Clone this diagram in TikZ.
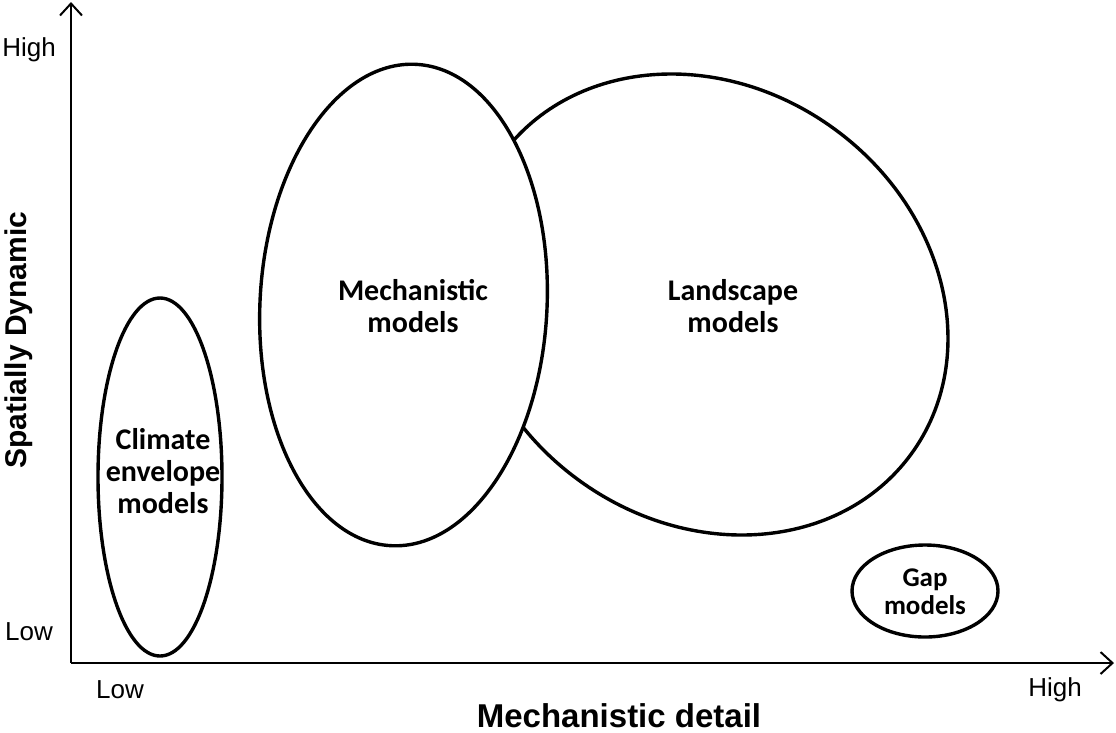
\documentclass[tikz,border=0pt]{standalone}
\usepackage{fontspec}
\setmainfont{Liberation Sans}
\newfontfamily\calfont{Carlito}
\usetikzlibrary{arrows.meta}
\tikzset{
  axis/.style={line width=2pt, -{Straight Barb[length=12pt,width=22pt,line width=2pt]}},
  blob/.style={line width=3.4pt, fill=white},
  inlabel/.style={font=\calfont\bfseries\fontsize{30}{32}\selectfont, align=center},
  ticklabel/.style={font=\fontsize{26}{30}\selectfont},
  axtitle/.style={font=\bfseries\fontsize{30}{34}\selectfont}
}
\begin{document}
\begin{tikzpicture}[x=1pt,y=-1pt]
\useasboundingbox (0,0) rectangle (1116,732);
\coordinate (O) at (71,663);
\coordinate (Ytop) at (71,2);
\coordinate (Xend) at (1114,663);
\draw[axis] (O) -- (Ytop);
\draw[axis] (O) -- (Xend);
% ellipses
\draw[blob] (160,477) ellipse [x radius=62pt, y radius=179pt];
\draw[blob, rotate around={-36.2:(706.5,304.5)}] (706.5,304.5) ellipse [x radius=253.5pt, y radius=217.2pt];
\draw[blob, rotate around={-3:(403.5,305)}] (403.5,305) ellipse [x radius=143.5pt, y radius=241pt];
\draw[blob] (925,591) ellipse [x radius=73pt, y radius=46pt];
% labels
\node[inlabel] (climate) at (163,471) {Climate\\envelope\\models};
\node[inlabel] (mech) at (413,306) {Mechanistic\\models};
\node[inlabel] (land) at (733,306) {Landscape\\models};
\node[inlabel, font=\calfont\bfseries\fontsize{27}{28}\selectfont] (gap) at (925,592) {Gap\\models};
\node[ticklabel] (yhigh) at (29,50) {High};
\node[ticklabel] (ylow) at (29,632) {Low};
\node[ticklabel] (xlow) at (120,690) {Low};
\node[ticklabel] (xhigh) at (1055,690) {High};
\node[axtitle, rotate=90] (ytitle) at (19,340) {Spatially Dynamic};
\node[axtitle, font=\bfseries\fontsize{33}{36}\selectfont, anchor=base, inner sep=0pt] (xtitle) at (619,727) {Mechanistic detail};
\end{tikzpicture}
\end{document}
